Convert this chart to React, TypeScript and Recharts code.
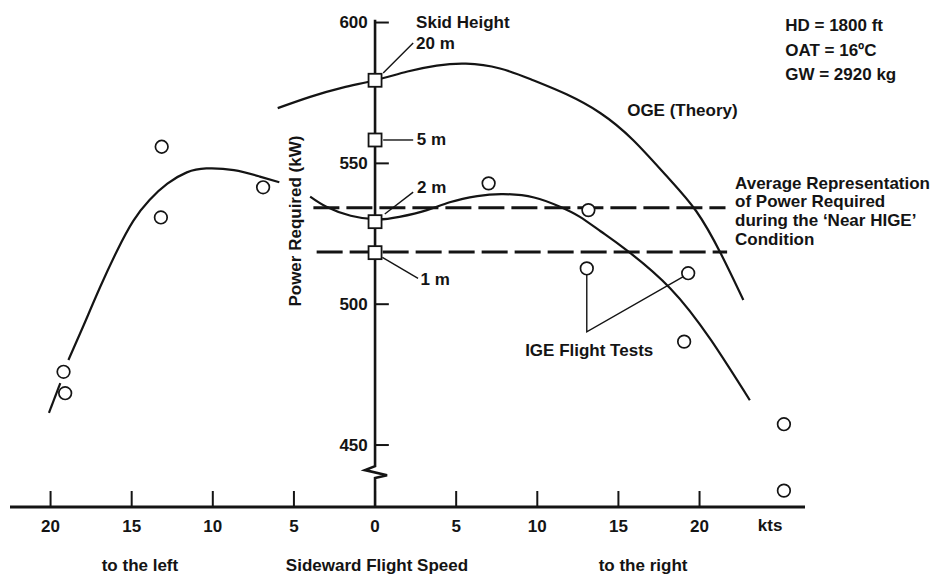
import { ComposedChart, Line, Scatter, XAxis, YAxis, ReferenceDot } from "recharts";

// s = sideward speed in kts (negative = to the left), p = power required in kW
const speedTicks = [-20, -15, -10, -5, 0, 5, 10, 15, 20];
const powerTicks = [600, 550, 500, 450];

// OGE theory curve
const ogeTheory = [
  { s: -6.0, p: 569.6 }, { s: -4.0, p: 573.6 }, { s: -2.0, p: 576.9 }, { s: 0, p: 579.5 },
  { s: 2.0, p: 582.6 }, { s: 3.8, p: 584.7 }, { s: 5.6, p: 585.4 }, { s: 7.7, p: 583.7 },
  { s: 9.7, p: 579.6 }, { s: 11.8, p: 574.5 }, { s: 13.9, p: 567.8 }, { s: 15.9, p: 558.3 },
  { s: 18.0, p: 545.3 }, { s: 19.8, p: 533.0 }, { s: 21.3, p: 518.1 }, { s: 22.7, p: 501.5 },
];

// faired IGE curve, right side
const igeRight = [
  { s: -4.0, p: 538.2 }, { s: -3.0, p: 534.6 }, { s: -1.5, p: 531.4 }, { s: 0.1, p: 530.1 },
  { s: 1.5, p: 531.0 }, { s: 3.2, p: 533.4 }, { s: 4.6, p: 536.2 }, { s: 6.3, p: 538.4 },
  { s: 7.9, p: 539.1 }, { s: 9.8, p: 537.9 }, { s: 11.4, p: 534.6 }, { s: 12.6, p: 531.1 },
  { s: 13.9, p: 525.9 }, { s: 15.5, p: 519.2 }, { s: 18.2, p: 505.6 }, { s: 20.7, p: 487.3 },
  { s: 23.1, p: 465.9 },
];

// faired IGE curve, left side (broken around the low-speed points)
const igeLeftTip = [{ s: -20.1, p: 461.4 }, { s: -19.4, p: 472.0 }];
const igeLeft = [
  { s: -18.9, p: 480.2 }, { s: -18.0, p: 492.0 }, { s: -16.95, p: 506.0 }, { s: -15.9, p: 519.0 },
  { s: -14.9, p: 529.6 }, { s: -13.9, p: 537.0 }, { s: -12.8, p: 542.8 }, { s: -11.6, p: 546.8 },
  { s: -10.4, p: 548.2 }, { s: -8.7, p: 547.6 }, { s: -7.1, p: 545.3 }, { s: -5.9, p: 543.3 },
];

// average "near HIGE" levels
const avgUpper = [{ s: -3.8, p: 534.2 }, { s: 21.6, p: 534.2 }];
const avgLower = [{ s: -3.6, p: 518.5 }, { s: 21.7, p: 518.5 }];

// hover points at different skid heights
const skidPoints = [
  { s: 0, p: 579.5 }, { s: 0, p: 558.3 }, { s: 0, p: 529.3 }, { s: 0, p: 518.3 },
];

// IGE flight test points
const flightTests = [
  { s: -13.15, p: 555.9 }, { s: -13.2, p: 530.8 }, { s: -6.9, p: 541.5 },
  { s: -19.2, p: 476.0 }, { s: -19.1, p: 468.4 },
  { s: 7.0, p: 542.9 }, { s: 13.15, p: 533.4 }, { s: 13.05, p: 512.7 },
  { s: 19.3, p: 511.0 }, { s: 19.05, p: 486.7 }, { s: 25.2, p: 457.4 }, { s: 25.2, p: 433.8 },
];

// vertical power axis with the scale break near the bottom
const powerAxis = [
  { s: 0, p: 601 }, { s: 0, p: 442.5 }, { s: -0.62, p: 441.1 }, { s: 0.74, p: 439.3 },
  { s: 0, p: 438.3 }, { s: 0, p: 428 },
];

// leader lines
const leaders = [
  [{ s: 0.5, p: 582.1 }, { s: 2.35, p: 592.7 }],
  [{ s: 0.5, p: 558.3 }, { s: 2.35, p: 558.3 }],
  [{ s: 0.6, p: 532.0 }, { s: 2.35, p: 539.8 }],
  [{ s: 0.45, p: 516.6 }, { s: 2.65, p: 509.2 }],
  [{ s: 13.05, p: 510.4 }, { s: 13.05, p: 490.2 }, { s: 19.0, p: 509.8 }],
];

const notes = [
  { s: 2.53, p: 599.9, text: "Skid Height" },
  { s: 2.53, p: 592.4, text: "20 m" },
  { s: 2.57, p: 558.3, text: "5 m" },
  { s: 2.59, p: 541.6, text: "2 m" },
  { s: 2.8, p: 508.6, text: "1 m" },
  { s: 15.54, p: 568.9, text: "OGE (Theory)" },
  { s: 22.19, p: 543.0, text: "Average Representation" },
  { s: 22.19, p: 536.3, text: "of Power Required" },
  { s: 22.19, p: 529.6, text: "during the \u2018Near HIGE\u2019" },
  { s: 22.19, p: 522.8, text: "Condition" },
  { s: 25.28, p: 599.1, text: "HD = 1800 ft" },
  { s: 25.28, p: 589.9, text: "OAT = 16\u00baC" },
  { s: 25.28, p: 581.7, text: "GW = 2920 kg" },
  { s: 9.25, p: 483.7, text: "IGE Flight Tests" },
];

const bottomNotes = [
  { s: 24.35, p: 421.3, text: "kts" },
  { s: -14.49, p: 407.4, text: "to the left" },
  { s: 0.12, p: 407.4, text: "Sideward Flight Speed" },
  { s: 16.52, p: 407.4, text: "to the right" },
];

const font = '"Liberation Sans", Arial, Helvetica, sans-serif';
const ink = "#141414";
const textStyle = { fontFamily: font, fontWeight: 700, fontSize: 17, fill: ink };

const SpeedTick = ({ x, y, payload }: any) => (
  <g>
    <line x1={x} x2={x} y1={y - 16} y2={y} stroke={ink} strokeWidth={2} />
    <text x={x} y={y + 19} textAnchor="middle" dominantBaseline="central" style={textStyle}>
      {Math.abs(payload.value)}
    </text>
  </g>
);

const Ring = ({ cx, cy }: any) => (
  <circle cx={cx} cy={cy} r={6.3} fill="#fff" stroke={ink} strokeWidth={1.7} />
);

const Box = ({ cx, cy }: any) => (
  <rect x={cx - 6.5} y={cy - 6.5} width={13} height={13} fill="#fff" stroke={ink} strokeWidth={1.8} />
);

const textShape = (text: string, anchor: string, rotate = false) => (props: any) => (
  <text
    x={props.cx}
    y={props.cy}
    textAnchor={anchor}
    dominantBaseline="central"
    transform={rotate ? `rotate(-90 ${props.cx} ${props.cy})` : undefined}
    style={textStyle}
  >
    {text}
  </text>
);

const curve = { dot: false, activeDot: false, isAnimationActive: false, stroke: ink, legendType: "none" as const };

export default function App() {
  return (
    <div style={{ position: "absolute", left: 0, top: 0, background: "#fff" }}>
      <ComposedChart width={939} height={576} margin={{ top: 0, right: 134, bottom: 0, left: 10 }}>
        <XAxis
          dataKey="s"
          type="number"
          domain={[-22.5, 26.5]}
          allowDataOverflow
          ticks={speedTicks}
          interval={0}
          height={69}
          tickSize={0}
          tickMargin={0}
          tickLine={false}
          tick={<SpeedTick />}
          axisLine={{ stroke: ink, strokeWidth: 3 }}
        />
        <YAxis hide type="number" dataKey="p" domain={[428, 608]} allowDataOverflow />

        <Line data={powerAxis} dataKey="p" type="linear" strokeWidth={2.6} {...curve} />
        {powerTicks.map((v) => (
          <Line
            key={`pt-${v}`}
            data={[{ s: 0, p: v }, { s: 0.85, p: v }]}
            dataKey="p"
            type="linear"
            strokeWidth={2}
            {...curve}
          />
        ))}

        <Line data={avgUpper} dataKey="p" type="linear" strokeWidth={3} strokeDasharray="26 7" {...curve} />
        <Line data={avgLower} dataKey="p" type="linear" strokeWidth={3} strokeDasharray="26 7" {...curve} />
        <Line data={ogeTheory} dataKey="p" type="natural" strokeWidth={2.2} {...curve} />
        <Line data={igeRight} dataKey="p" type="natural" strokeWidth={2.2} {...curve} />
        <Line data={igeLeft} dataKey="p" type="natural" strokeWidth={2.2} {...curve} />
        <Line data={igeLeftTip} dataKey="p" type="linear" strokeWidth={2.2} {...curve} />
        {leaders.map((seg, i) => (
          <Line key={`ld-${i}`} data={seg} dataKey="p" type="linear" strokeWidth={1.4} {...curve} />
        ))}

        <Scatter data={flightTests} dataKey="p" shape={<Ring />} isAnimationActive={false} legendType="none" />
        <Scatter data={skidPoints} dataKey="p" shape={<Box />} isAnimationActive={false} legendType="none" />

        {powerTicks.map((v) => (
          <ReferenceDot key={`pl-${v}`} x={-0.45} y={v} r={0} ifOverflow="visible" shape={textShape(String(v), "end")} />
        ))}
        <ReferenceDot x={-4.93} y={529.5} r={0} ifOverflow="visible" shape={textShape("Power Required (kW)", "middle", true)} />
        {notes.map((n) => (
          <ReferenceDot key={n.text} x={n.s} y={n.p} r={0} ifOverflow="visible" shape={textShape(n.text, "start")} />
        ))}
        {bottomNotes.map((n) => (
          <ReferenceDot key={n.text} x={n.s} y={n.p} r={0} ifOverflow="visible" shape={textShape(n.text, "middle")} />
        ))}
      </ComposedChart>
    </div>
  );
}
